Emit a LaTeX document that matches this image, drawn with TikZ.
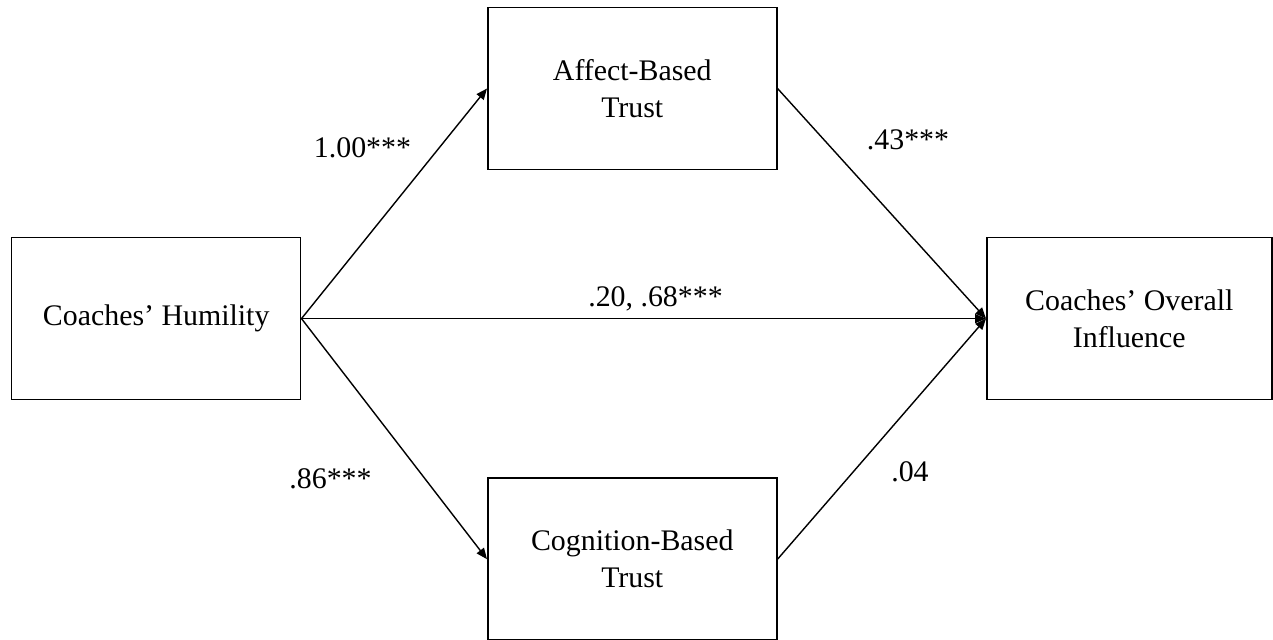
\documentclass[tikz,border=0pt]{standalone}
\usepackage{fontspec}
\setmainfont{Liberation Serif}
\usetikzlibrary{positioning,arrows.meta}

\tikzset{
  var/.style={draw, line width=0.9pt, minimum width=5.78cm, minimum height=3.24cm,
    inner sep=0pt, align=center, font=\fontsize{17}{21}\selectfont},
  coef/.style={anchor=base, inner sep=0pt, font=\fontsize{17}{21}\selectfont},
  effect/.style={line width=0.8pt, -{Triangle[length=2.2mm,width=1.8mm]}}
}

\begin{document}
\begin{tikzpicture}
  \useasboundingbox (0,0) rectangle (25.46,12.78);
  % variables
  \node (hum) [var] at (3.124,6.408) {Coaches’ Humility};
  \node (aff) [var, above right=1.33cm and 3.71cm of hum] {Affect-Based\\Trust};
  \node (cog) [var, below right=1.54cm and 3.71cm of hum] {Cognition-Based\\Trust};
  \node (inf) [var, minimum width=5.7cm, right=13.69cm of hum] {Coaches’ Overall\\Influence};

  % paths
  \draw [effect] (hum.east) -- (aff.west);
  \draw [effect] (hum.east) -- (cog.west);
  \draw [effect] (hum.east) -- (inf.west);
  \draw [effect] (aff.east) -- (inf.west);
  \draw [effect] (cog.east) -- (inf.west);

  % coefficients
  \node (ca) [coef] at (7.25,9.62) {1.00***};
  \node (cb) [coef] at (18.16,9.78) {.43***};
  \node (cc) [coef] at (13.11,6.646) {.20, .68***};
  \node (cd) [coef] at (6.61,3.02) {.86***};
  \node (ce) [coef] at (18.2,3.16) {.04};
\end{tikzpicture}
\end{document}
